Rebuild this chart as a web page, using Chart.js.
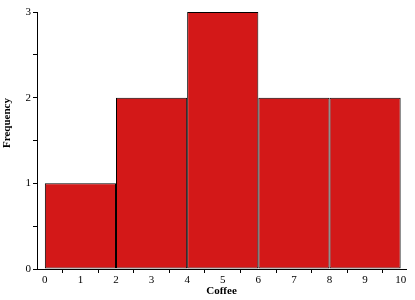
<!DOCTYPE html>
<html>
<head>
<meta charset="utf-8">
<script src="https://cdn.jsdelivr.net/npm/chart.js@4"></script>
<style>
  html, body { margin: 0; padding: 0; background: #fff; }
  #wrap { width: 415px; height: 300px; }
</style>
</head>
<body>
<div id="wrap"><canvas id="chart" width="415" height="300"></canvas></div>
<script>
// datos del histograma
const binCenters = [1, 3, 5, 7, 9];
const frequencies = [1, 2, 3, 2, 2];
const xTitle = 'Coffee';
const yTitle = 'Frequency';

const serif = '"Liberation Serif", "DejaVu Serif", serif';

// titulo del eje Y dibujado a mano (un poco por encima del centro)
const yTitlePlugin = {
    id: 'yTitle',
    afterDraw(chart) {
        const ctx = chart.ctx;
        ctx.save();
        ctx.translate(7, 123);
        ctx.rotate(-Math.PI / 2);
        ctx.font = 'bold 11px ' + serif;
        ctx.fillStyle = '#000';
        ctx.textAlign = 'center';
        ctx.textBaseline = 'middle';
        ctx.fillText(yTitle, 0, 0);
        ctx.restore();
    }
};

const ctx = document.getElementById('chart').getContext('2d');
new Chart(ctx, {
    type: 'bar',
    data: {
        datasets: [{
            data: binCenters.map((x, i) => ({ x: x, y: frequencies[i] })),
            backgroundColor: 'rgb(211, 24, 24)',
            borderColor: '#000',
            borderWidth: 1,
            borderSkipped: false,
            // la regla mínima sale de los ticks (1 unidad), el bin mide 2
            barPercentage: 2,
            categoryPercentage: 1
        }]
    },
    options: {
        responsive: false,
        animation: false,
        layout: { padding: { top: 12, right: 9, left: 0, bottom: 0 } },
        plugins: {
            legend: { display: false },
            tooltip: { enabled: false }
        },
        scales: {
            x: {
                type: 'linear',
                offset: false,
                min: -0.22,
                max: 10.15,
                grid: { drawOnChartArea: false, drawTicks: true, tickLength: 4, color: '#000' },
                border: { display: true, color: '#000', width: 1 },
                ticks: {
                    stepSize: 1,
                    includeBounds: false,
                    color: '#000',
                    padding: 1,
                    maxRotation: 0,
                    font: { family: serif, size: 11 }
                },
                title: {
                    display: true,
                    text: xTitle,
                    color: '#000',
                    padding: { top: 0, bottom: 2 },
                    font: { family: serif, size: 11, weight: 'bold' }
                },
                afterFit(scale) { scale.height = 31; }
            },
            y: {
                min: 0,
                max: 3,
                grid: { drawOnChartArea: false, drawTicks: true, tickLength: 4, color: '#000' },
                border: { display: true, color: '#000', width: 1 },
                ticks: {
                    stepSize: 0.5,
                    color: '#000',
                    padding: 2,
                    font: { family: serif, size: 11 },
                    callback: v => (Number.isInteger(v) ? v : '')
                },
                afterFit(scale) { scale.width = 37; }
            }
        }
    },
    plugins: [yTitlePlugin]
});
</script>
</body>
</html>
